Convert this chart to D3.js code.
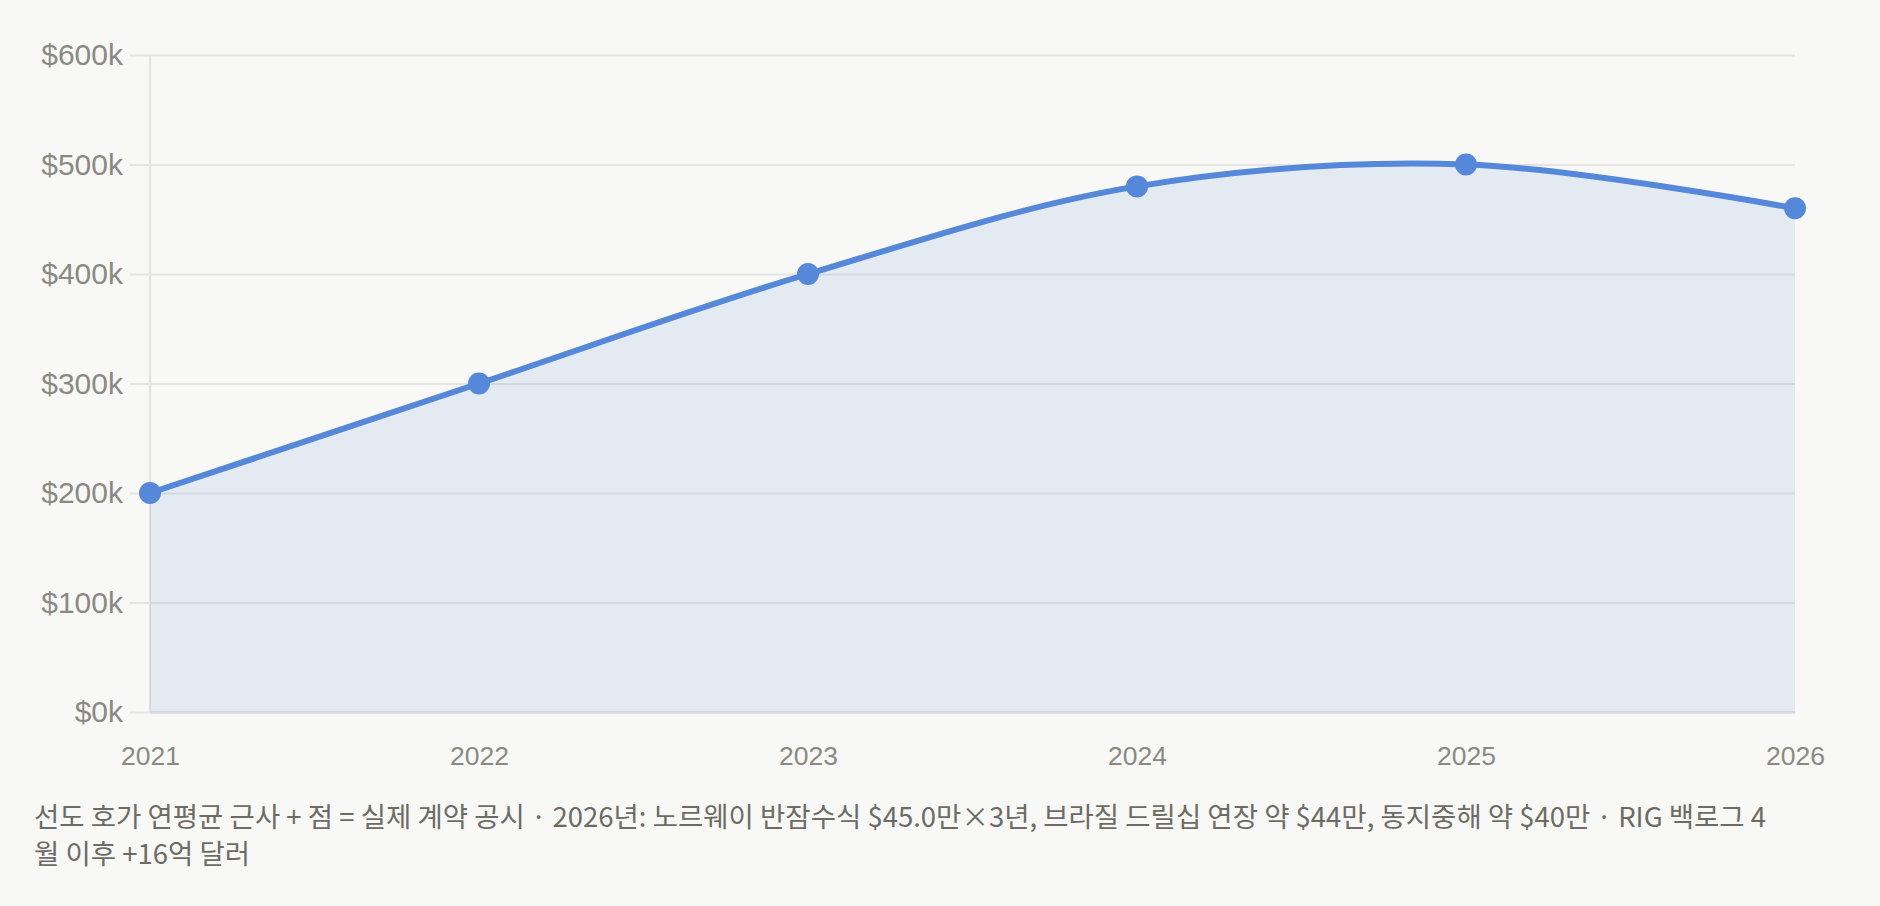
<!DOCTYPE html>
<meta charset="utf-8">
<style>
body { margin: 0; background: #f8f8f6; overflow: hidden; }
svg { display: block; font-family: "Liberation Sans", Arial, sans-serif; }
.tick text { fill: #8a8a82; }
.caption { font-family: "Noto Sans CJK KR", sans-serif; fill: #6c6c64; font-size: 27.5px; }
</style>
<svg width="1880" height="906"></svg>
<script src="https://d3js.org/d3.v7.min.js"></script>
<script>

// data
var years = [2021, 2022, 2023, 2024, 2025, 2026];
var rates = [200, 300, 400, 480, 500, 460];   // $k per year
var yTicks = [0, 100, 200, 300, 400, 500, 600];
var captionLines = [
  "선도 호가 연평균 근사 + 점 = 실제 계약 공시 · 2026년: 노르웨이 반잠수식 $45.0만×3년, 브라질 드릴십 연장 약 $44만, 동지중해 약 $40만 · RIG 백로그 4",
  "월 이후 +16억 달러"
];

var svg = d3.select("svg"),
    mLeft = 150, mRight = 1795, mTop = 55, mBottom = 712;

var x = d3.scaleLinear().domain([2021, 2026]).range([mLeft, mRight]);
var y = d3.scaleLinear().domain([0, 600]).range([mBottom, mTop]);

var data = years.map(function(d, i) { return {year: d, v: rates[i]}; });

// grid lines + y labels
var yAxis = svg.append("g")
  .attr("transform", "translate(" + mLeft + ",0)")
  .call(d3.axisLeft(y).tickValues(yTicks)
    .tickSize(0)
    .tickPadding(27)
    .tickFormat(function(d) { return "$" + d + "k"; }));
yAxis.select(".domain").remove();
yAxis.selectAll(".tick line")
  .attr("x1", -20).attr("x2", mRight - mLeft)
  .attr("stroke", "#e4e4e2").attr("stroke-width", 2);
yAxis.selectAll(".tick text")
  .style("font-size", "30px");

// left axis line
svg.append("line")
  .attr("x1", mLeft).attr("x2", mLeft)
  .attr("y1", mTop).attr("y2", mBottom)
  .attr("stroke", "#e2e2e0").attr("stroke-width", 2);

// x labels
var xAxis = svg.append("g")
  .attr("transform", "translate(0," + mBottom + ")")
  .call(d3.axisBottom(x).tickValues(years).tickSize(0).tickPadding(34)
    .tickFormat(d3.format("d")));
xAxis.select(".domain").attr("stroke", "#d8dae0").attr("stroke-width", 2);
xAxis.selectAll(".tick text")
  .style("font-size", "26.5px");

var curve = d3.curveCatmullRom.alpha(0.5);

var area = d3.area()
  .x(function(d) { return x(d.year); })
  .y0(y(0))
  .y1(function(d) { return y(d.v); })
  .curve(curve);

var line = d3.line()
  .x(function(d) { return x(d.year); })
  .y(function(d) { return y(d.v); })
  .curve(curve);

svg.append("path")
  .datum(data)
  .attr("d", area)
  .attr("fill", "#5588d8")
  .attr("fill-opacity", 0.12);

svg.append("path")
  .datum(data)
  .attr("d", line)
  .attr("fill", "none")
  .attr("stroke", "#5588d8")
  .attr("stroke-width", 6)
  .attr("stroke-linecap", "round");

svg.selectAll("circle.pt")
  .data(data)
  .enter()
  .append("circle")
    .attr("class", "pt")
    .attr("cx", function(d) { return x(d.year); })
    .attr("cy", function(d) { return y(d.v); })
    .attr("r", 11)
    .attr("fill", "#5588d8");

// caption
svg.append("text")
  .attr("class", "caption")
  .selectAll("tspan")
  .data(captionLines)
  .enter()
  .append("tspan")
    .attr("x", 34)
    .attr("y", function(d, i) { return 827 + i * 37; })
    .text(function(d) { return d; });

</script>
